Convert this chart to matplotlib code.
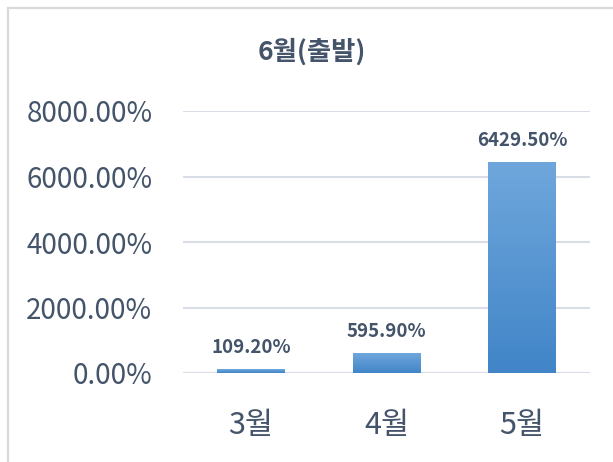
import numpy as np
import matplotlib
matplotlib.use("Agg")
import matplotlib.pyplot as plt
from matplotlib.patches import Rectangle
from matplotlib.colors import LinearSegmentedColormap

plt.rcParams['font.family'] = ['Noto Sans CJK KR', 'DejaVu Sans']

# data
months = ['3월', '4월', '5월']
values = [109.20, 595.90, 6429.50]
labels = ['109.20%', '595.90%', '6429.50%']
yticks = [0, 2000, 4000, 6000, 8000]
title = '6월(출발)'

TXT = '#44546A'
GRID = '#D9DEE6'

fig = plt.figure(figsize=(6.13, 4.62), dpi=100)
ax = fig.add_axes([183/613, 1 - 373/462, (590-183)/613, (373-111)/462])

# outer chart frame
fig.patches.append(Rectangle((7.5/613, -0.1), 1.2, 1 - 7.5/462 + 0.1,
                             transform=fig.transFigure, fill=False,
                             edgecolor='#D9D9D9', linewidth=1.6))

x = np.arange(len(months))
bars = ax.bar(x, values, width=0.5, color='#5B9BD5', zorder=3)

# vertical gradient on each bar
cmap = LinearSegmentedColormap.from_list('g', ['#4185C8', '#6FA7DC'])
grad = np.linspace(0, 1, 256).reshape(-1, 1)
for b in bars:
    x0, y0 = b.get_x(), b.get_y()
    w, h = b.get_width(), b.get_height()
    im = ax.imshow(grad, extent=[x0, x0 + w, y0, y0 + h], origin='lower',
                   cmap=cmap, aspect='auto', zorder=4)
    im.set_clip_path(b)

for xi, v, lab in zip(x, values, labels):
    ax.annotate(lab, (xi, v), xytext=(0, 16), textcoords='offset points',
                ha='center', va='center', fontsize=13.5, fontweight='bold',
                color=TXT)

ax.set_xlim(-0.5, 2.5)
ax.set_ylim(0, 8000)
ax.set_yticks(yticks)
ax.set_yticklabels([f'{t:.2f}%' for t in yticks])
ax.set_xticks(x)
ax.set_xticklabels(months)
ax.grid(axis='y', color=GRID, linewidth=1.5, zorder=0)
for s in ax.spines.values():
    s.set_visible(False)
ax.tick_params(axis='y', length=0, colors=TXT, labelsize=20, pad=22)
ax.tick_params(axis='x', length=0, colors=TXT, labelsize=22, pad=27)

fig.text(312/613, 1 - 52/462, title, ha='center', va='center',
         fontsize=19, fontweight='bold', color=TXT)

fig.savefig('out.png', dpi=100)
